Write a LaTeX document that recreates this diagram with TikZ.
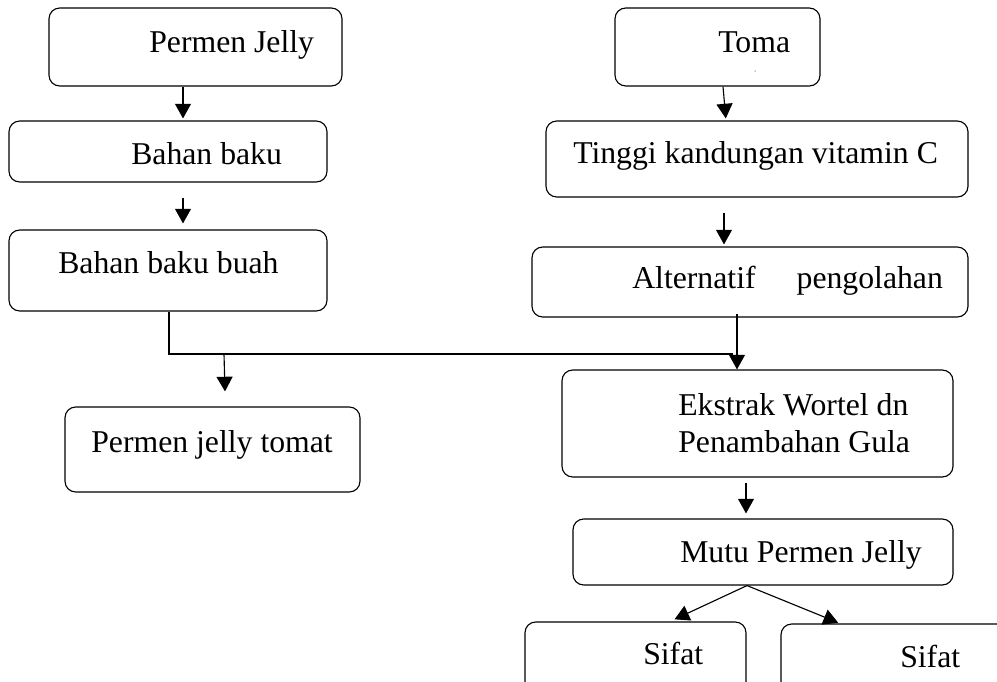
\documentclass[tikz,border=0pt]{standalone}
\usepackage{fontspec}
\setmainfont{Liberation Serif}
\usetikzlibrary{arrows.meta,calc,fit}
\begin{document}
\begin{tikzpicture}[x=0.75pt,y=-0.75pt,
  box/.style={draw,line width=0.85pt,rounded corners=8pt,inner sep=0pt},
  lbl/.style={anchor=base west,inner sep=0pt,font=\fontsize{23.8pt}{28pt}\selectfont},
  arr/.style={line width=0.85pt,-{Triangle[length=11pt,width=12pt]}},
  ln/.style={line width=0.85pt}]
\useasboundingbox (0,0) rectangle (997,682);
\clip (0,0) rectangle (997,682);
% left column
\node[box,fit={(49,8) (342,86)}] (b1) {};
\node[lbl] (t1) at (149,52) {Permen Jelly};
\node[box,fit={(9,121) (327,182)}] (b2) {};
\node[lbl] (t2) at (131,164) {Bahan baku};
\node[box,fit={(9,230) (327,311)}] (b3) {};
\node[lbl] (t3) at (58,273) {Bahan baku buah};
\node[box,fit={(65,407) (360,492)}] (b4) {};
\node[lbl] (t4) at (91,452) {Permen jelly tomat};
% right column
\node[box,fit={(615,8) (820,86)}] (r1) {};
\node[lbl] (u1) at (718,52) {Toma};
\fill (755,71) circle (0.5);
\node[box,fit={(546,121) (968,197)}] (r2) {};
\node[lbl] (u2) at (573,163) {Tinggi kandungan vitamin C};
\node[box,fit={(532,247) (968,317)}] (r3) {};
\node[lbl] (u3) at (632,288) {Alternatif\hspace{30.75pt}pengolahan};
\node[box,fit={(562,370) (953,477)}] (r4) {};
\node[lbl] (u4a) at (678,415) {Ekstrak Wortel dn};
\node[lbl] (u4b) at (678,452) {Penambahan Gula};
\node[box,fit={(573,519) (953,585)}] (r5) {};
\node[lbl] (u5) at (680,562) {Mutu Permen Jelly};
\node[box,fit={(525,622) (746,700)}] (s1) {};
\node[lbl] (v1) at (643,664) {Sifat};
\node[box,fit={(781,624) (1010,700)}] (s2) {};
\node[lbl] (v2) at (900,667) {Sifat};
% junction coordinates
\coordinate (j0) at (169,354);
\coordinate (j1) at (224,354);
\coordinate (j2) at (733,354);
% connectors
\draw[arr,shorten >=1.5pt] ($(b1.south)+(-12.5,0)$) -- ($(b2.north)+(15,0)$);
\draw[arr,shorten <=11.25pt,shorten >=4.5pt] ($(b2.south)+(15,0)$) -- ($(b3.north)+(15,0)$);
\draw[ln] ($(b3.south)+(1,0)$) -- (j0) -- (j2);
\draw[arr] (j1) -- ($(b4.north)+(12.5,-15)$);
\draw[arr,shorten >=1.5pt] ($(r1.south)+(5.5,0)$) -- ($(r2.north)+(-31,0)$);
\draw[arr,shorten <=11.25pt,shorten >=1.5pt] ($(r2.south)+(-33,0)$) -- ($(r3.north)+(-26,0)$);
\draw[arr] ($(r3.south)+(-13,-4)$) -- ($(r4.north)+(-20.5,0)$);
\draw[arr,shorten <=3.75pt,shorten >=3.75pt] ($(r4.south)+(-11.5,0)$) -- ($(r5.north)+(-17,0)$);
\draw[arr,shorten >=3.75pt] ($(r5.south)+(-16,0)$) -- ($(s1.north)+(34.5,0)$);
\draw[arr,shorten >=1.5pt] ($(r5.south)+(-16,0)$) -- ($(s2.north)+(-55.5,0)$);
\end{tikzpicture}
\end{document}
